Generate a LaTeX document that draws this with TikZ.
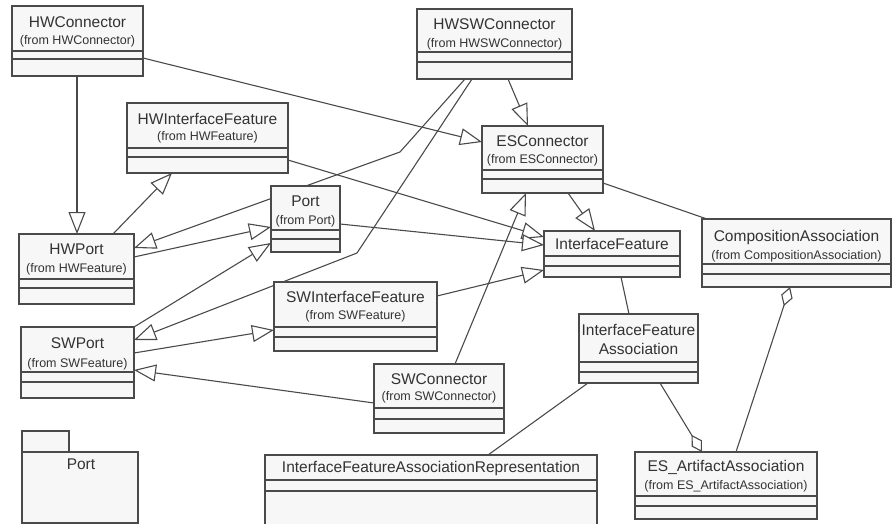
\documentclass[tikz,border=0pt]{standalone}
\usepackage{fontspec}
\setmainfont{Liberation Sans}
\usetikzlibrary{arrows.meta,calc}
\definecolor{ln}{HTML}{4A4A4A}
\definecolor{bx}{HTML}{F7F7F7}
\definecolor{tx}{HTML}{333333}
\begin{document}
\begin{tikzpicture}[x=1pt,y=-1pt,
  box/.style={draw=ln, fill=bx, line width=1.2pt, inner sep=0pt, outer sep=0pt, rectangle},
  sepl/.style={draw=ln, line width=1.1pt},
  nm/.style={font=\fontsize{15.5}{18}\selectfont, text=tx, inner sep=0pt},
  fr/.style={font=\fontsize{12.5}{14}\selectfont, text=tx, inner sep=0pt},
  con/.style={draw=ln, line width=1.1pt},
  gen/.style={con, -{Triangle[length=22pt,width=17pt,fill=white]}},
  agg/.style={con, -{Diamond[length=20pt,width=12pt,fill=white]}}]
\useasboundingbox (0,0) rectangle (894,524);
\clip (0,0) rectangle (894,524);
% boxes (positioned first so that connectors can refer to them)
\node[box, minimum width=131pt, minimum height=70pt] (hwc) at (77.5,41) {};
\node[box, minimum width=161pt, minimum height=70pt] (hwif) at (207.5,138) {};
\node[box, minimum width=155pt, minimum height=70pt] (hwswc) at (494.5,44) {};
\node[box, minimum width=121pt, minimum height=67pt] (esc) at (542.5,159.5) {};
\node[box, minimum width=69pt, minimum height=66pt] (port) at (305.5,219) {};
\node[box, minimum width=115pt, minimum height=70pt] (hwp) at (76.5,269) {};
\node[box, minimum width=136pt, minimum height=46pt] (ifeat) at (612,254) {};
\node[box, minimum width=189pt, minimum height=68pt] (ca) at (796.5,253) {};
\node[box, minimum width=163pt, minimum height=69pt] (swif) at (355.5,316.5) {};
\node[box, minimum width=113pt, minimum height=71pt] (swp) at (77.5,362.5) {};
\node[box, minimum width=130pt, minimum height=69pt] (swc) at (439,398.5) {};
\node[box, minimum width=119pt, minimum height=69pt] (ifa) at (638.5,348.5) {};
\node[box, minimum width=182pt, minimum height=67pt] (esaa) at (726,485.5) {};
\node[box, minimum width=332pt, minimum height=80pt] (ifar) at (431,495) {};
\node[box, minimum width=47pt, minimum height=21pt] (pkgtab) at (45.5,441.5) {};
\node[box, minimum width=116pt, minimum height=71pt] (pkg) at (80,487.5) {};
% connectors
\coordinate (b1) at (400,152);
\coordinate (b2) at (357,253);
\draw[gen] ($(hwc.south west)+(65,0)$) -- ($(hwp.north west)+(58,0)$);
\draw[gen] ($(hwc.north east)+(0,52)$) -- ($(esc.north west)+(0,16)$);
\draw[gen] ($(hwswc.south west)+(91,0)$) -- ($(esc.north west)+(46,0)$);
\draw[gen] ($(hwswc.south west)+(48,0)$) -- (b1) -- ($(hwp.north east)+(0,14)$);
\draw[gen] ($(hwswc.south west)+(55,0)$) -- (b2) -- ($(swp.north east)+(0,13)$);
\draw[gen] ($(hwp.north east)+(0,23)$) -- ($(port.north west)+(0,41)$);
\draw[gen] ($(hwp.north west)+(94,0)$) -- ($(hwif.south west)+(45,0)$);
\draw[gen] ($(hwif.north east)+(0,57)$) -- ($(ifeat.north west)+(0,6)$);
\draw[gen] ($(port.north east)+(0,38)$) -- ($(ifeat.north west)+(0,14)$);
\draw[gen] ($(swif.north east)+(0,14)$) -- ($(ifeat.north west)+(0,39)$);
\draw[gen] ($(esc.south west)+(86,0)$) -- ($(ifeat.north west)+(51,0)$);
\draw[con] ($(esc.north east)+(0,57)$) -- ($(ca.north west)+(5,0)$);
\draw[gen] (swp.north east) -- ($(port.north west)+(0,57)$);
\draw[gen] ($(swp.north east)+(0,26)$) -- ($(swif.north west)+(0,48)$);
\draw[gen] ($(swc.north west)+(0,39)$) -- ($(swp.north east)+(0,43)$);
\draw[gen] ($(swc.north west)+(81,0)$) -- ($(esc.south west)+(44,0)$);
\draw[con] ($(ifeat.south west)+(77,0)$) -- ($(ifa.north west)+(50,0)$);
\draw[agg] ($(ifa.south west)+(81,0)$) -- ($(esaa.north west)+(67,0)$);
\draw[agg] ($(esaa.north west)+(101,0)$) -- ($(ca.south west)+(88,0)$);
\draw[con] ($(ifar.north west)+(223,0)$) -- ($(ifa.south west)+(9,0)$);
% redraw boxes on top of connectors
\foreach \b in {hwc,hwif,hwswc,esc,port,hwp,ifeat,ca,swif,swp,swc,ifa,esaa,ifar,pkgtab,pkg}
  {\path[box] (\b.north west) rectangle (\b.south east);}
% compartments
\draw[sepl] (12,51) -- (143,51) (12,59) -- (143,59);
\draw[sepl] (127,148) -- (288,148) (127,157) -- (288,157);
\draw[sepl] (417,52) -- (572,52) (417,62) -- (572,62);
\draw[sepl] (482,170) -- (603,170) (482,179) -- (603,179);
\draw[sepl] (271,230) -- (340,230) (271,239) -- (340,239);
\draw[sepl] (19,279) -- (134,279) (19,288) -- (134,288);
\draw[sepl] (544,256) -- (680,256) (544,266) -- (680,266);
\draw[sepl] (702,264) -- (891,264) (702,274) -- (891,274);
\draw[sepl] (274,327) -- (437,327) (274,337) -- (437,337);
\draw[sepl] (21,372) -- (134,372) (21,382) -- (134,382);
\draw[sepl] (374,408) -- (504,408) (374,419) -- (504,419);
\draw[sepl] (579,362) -- (698,362) (579,372) -- (698,372);
\draw[sepl] (635,496) -- (817,496) (635,506) -- (817,506);
\draw[sepl] (265,480) -- (597,480) (265,491) -- (597,491);
% texts
\node[nm] (hwc-n) at (77.5,22) {HWConnector};
\node[fr] (hwc-f) at (77.5,41) {(from HWConnector)};
\node[nm] (hwif-n) at (207.5,119) {HWInterfaceFeature};
\node[fr] (hwif-f) at (207.5,137) {(from HWFeature)};
\node[nm] (hwswc-n) at (494.5,24) {HWSWConnector};
\node[fr] (hwswc-f) at (494.5,44) {(from HWSWConnector)};
\node[nm] (esc-n) at (542.5,141) {ESConnector};
\node[fr] (esc-f) at (542.5,160) {(from ESConnector)};
\node[nm] (port-n) at (305.5,201) {Port};
\node[fr] (port-f) at (305.5,221) {(from Port)};
\node[nm] (hwp-n) at (76.5,249) {HWPort};
\node[fr] (hwp-f) at (76.5,269) {(from HWFeature)};
\node[nm] (ifeat-n) at (612,244) {InterfaceFeature};
\node[nm] (ca-n) at (796.5,237) {CompositionAssociation};
\node[fr] (ca-f) at (796.5,256) {(from CompositionAssociation)};
\node[nm] (swif-n) at (355.5,297) {SWInterfaceFeature};
\node[fr] (swif-f) at (355.5,316) {(from SWFeature)};
\node[nm] (swp-n) at (77.5,343) {SWPort};
\node[fr] (swp-f) at (77.5,364) {(from SWFeature)};
\node[nm] (swc-n) at (439,379) {SWConnector};
\node[fr] (swc-f) at (439,397) {(from SWConnector)};
\node[nm] (ifa-n1) at (638.5,330) {InterfaceFeature};
\node[nm] (ifa-n2) at (638.5,349) {Association};
\node[nm] (esaa-n) at (726,467) {ES\_ArtifactAssociation};
\node[fr] (esaa-f) at (726,486) {(from ES\_ArtifactAssociation)};
\node[nm] (ifar-n) at (431,468) {InterfaceFeatureAssociationRepresentation};
\node[nm] (pkg-n) at (81,464) {Port};
\end{tikzpicture}
\end{document}
